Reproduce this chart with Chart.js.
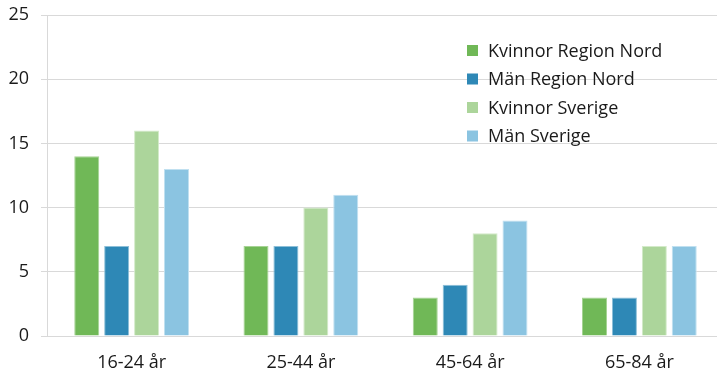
<!DOCTYPE html>
<html>
<head>
<meta charset="utf-8">
<script src="https://cdn.jsdelivr.net/npm/chart.js@4"></script>
<style>
  html, body { margin: 0; padding: 0; background: #fff; overflow: hidden; }
  #wrap { width: 717px; height: 374px; overflow: hidden; }
  #c { display: block; }
</style>
</head>
<body>
<div id="wrap"><canvas id="c" width="724" height="374"></canvas></div>
<script>
// Age groups and shares (%) per group
const categories = ['16-24 år', '25-44 år', '45-64 år', '65-84 år'];
const kvinnorRegionNord = [14, 7, 3, 3];
const manRegionNord = [7, 7, 4, 3];
const kvinnorSverige = [16, 10, 8, 7];
const manSverige = [13, 11, 9, 7];
const yTicks = [0, 5, 10, 15, 20, 25];

const FONT = '"Open Sans", "Liberation Sans", sans-serif';

const seriesDefs = [
  { label: 'Kvinnor Region Nord', data: kvinnorRegionNord, fill: '#70b857', edge: '#a6d394' },
  { label: 'Män Region Nord', data: manRegionNord, fill: '#2e88b6', edge: '#8cbfd8' },
  { label: 'Kvinnor Sverige', data: kvinnorSverige, fill: '#acd59b', edge: '#d3eac9' },
  { label: 'Män Sverige', data: manSverige, fill: '#8bc4e1', edge: '#c0e0f0' }
];

// Legend drawn as a vertical list inside the plot area, top right
const insideLegend = {
  id: 'insideLegend',
  afterDraw(chart) {
    const ctx = chart.ctx;
    const x0 = 467, y0 = 50.5, step = 28.5, box = 11;
    ctx.save();
    ctx.font = '18px ' + FONT;
    ctx.textBaseline = 'middle';
    chart.data.datasets.forEach((ds, i) => {
      const y = y0 + i * step;
      ctx.fillStyle = ds.backgroundColor;
      ctx.fillRect(x0, y - box / 2, box, box);
      ctx.fillStyle = '#1a1a1a';
      ctx.fillText(ds.label, x0 + 21, y + 1);
    });
    ctx.restore();
  }
};

new Chart(document.getElementById('c'), {
  type: 'bar',
  data: {
    labels: categories,
    datasets: seriesDefs.map(s => ({
      label: s.label,
      data: s.data,
      backgroundColor: s.fill,
      borderColor: s.edge,
      borderWidth: 1,
      barPercentage: 0.836,
      categoryPercentage: 0.707
    }))
  },
  options: {
    responsive: false,
    animation: false,
    devicePixelRatio: 1,
    layout: { padding: { top: 15, right: 0, left: 0, bottom: 0 } },
    plugins: {
      legend: { display: false },
      tooltip: { enabled: false }
    },
    scales: {
      x: {
        grid: { display: false },
        border: { display: false },
        ticks: { color: '#1a1a1a', font: { family: FONT, size: 18 }, padding: 8 },
        afterFit(scale) { scale.height = 38; scale.paddingLeft = 0; scale.paddingRight = 0; }
      },
      y: {
        min: 0,
        max: 25,
        afterBuildTicks(scale) { scale.ticks = yTicks.map(v => ({ value: v })); },
        grid: { color: '#d9d9d9', lineWidth: 1, tickLength: 6 },
        border: { display: true, color: '#d9d9d9', width: 1 },
        ticks: { color: '#1a1a1a', font: { family: FONT, size: 18 }, padding: 12 },
        afterFit(scale) { scale.width = 47; scale.paddingTop = 0; scale.paddingBottom = 0; }
      }
    }
  },
  plugins: [insideLegend]
});
</script>
</body>
</html>
